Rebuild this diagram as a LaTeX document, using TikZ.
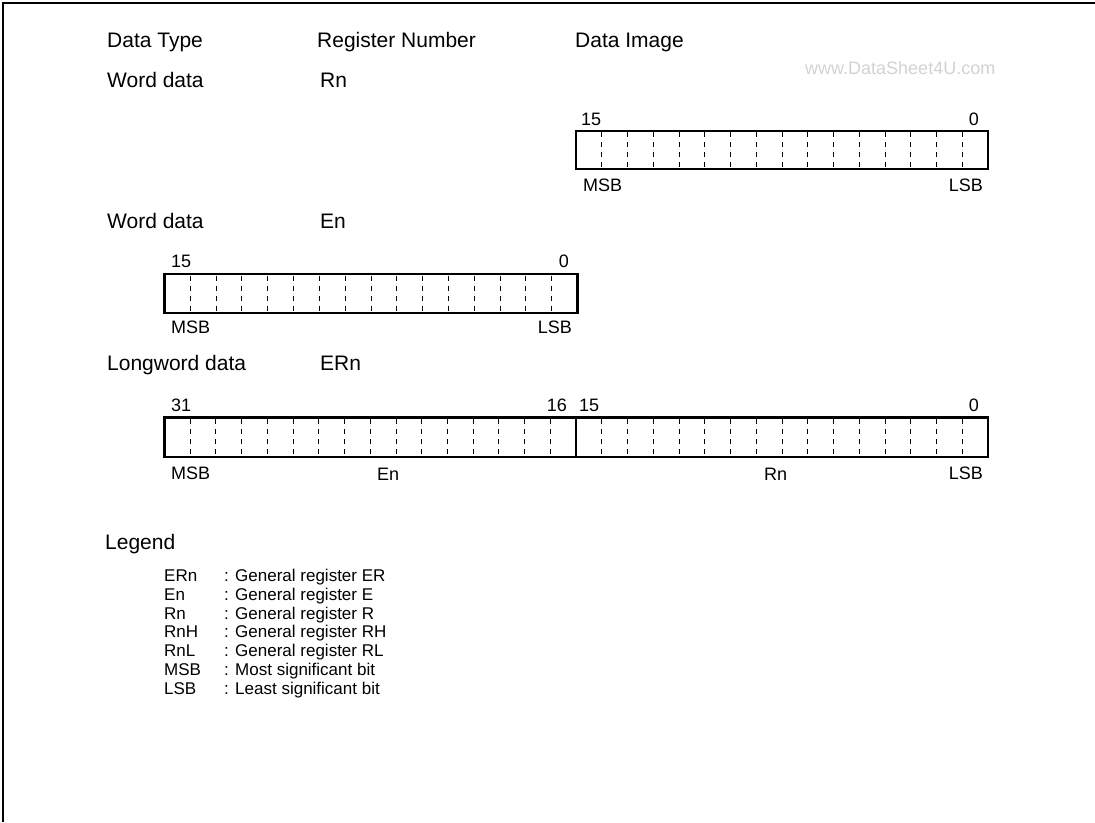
\documentclass[tikz,border=0pt]{standalone}
\usepackage{fontspec}
\setmainfont{Liberation Sans}
\begin{document}
\begin{tikzpicture}[x=1pt,y=-1pt,
  big/.style={font=\fontsize{21}{25}\selectfont, inner sep=0pt, anchor=base west},
  small/.style={font=\fontsize{18}{22}\selectfont, inner sep=0pt, anchor=base west},
  smallr/.style={small, anchor=base east},
  legitem/.style={font=\fontsize{17}{20}\selectfont, inner sep=0pt, anchor=base west},
  regbox/.style={draw, line width=2.3pt},
  bitdiv/.style={line width=0.9pt, dash pattern=on 5pt off 5pt},
  frameline/.style={line width=2pt},
  wmark/.style={font=\fontsize{18}{22}\selectfont, text=gray!35, inner sep=0pt, anchor=base west}]
\useasboundingbox (0,0) rectangle (1095,822);
% frame (open at right and bottom)
\draw[frameline] (2.5,822) -- (2.5,2.5) -- (1095,2.5);

% headers
\node[big] (hType) at (107,47) {Data Type};
\node[big] (hReg) at (317,47) {Register Number};
\node[big] (hImg) at (575,47) {Data Image};
\node[wmark] (wm) at (805,74) {www.DataSheet4U.com};

% row 1: word data Rn
\node[big] (t1) at (107,87.5) {Word data};
\node[big] (r1) at (320,87.5) {Rn};
\draw[regbox] (576,131) rectangle (988,169);
\foreach \k in {1,...,15} \draw[bitdiv] ({576+\k*412/16},132) -- ++(0,36);
\node[small] (b1h) at (581,125) {15};
\node[smallr] (b1l) at (979,125) {0};
\node[small] (b1m) at (583,191) {MSB};
\node[smallr] (b1s) at (983,191) {LSB};

% row 2: word data En
\node[big] (t2) at (107,228.5) {Word data};
\node[big] (r2) at (320,228.5) {En};
\draw[regbox] (164.5,274) rectangle (577.5,313);
\foreach \k in {1,...,15} \draw[bitdiv] ({164.5+\k*413/16},275.5) -- ++(0,36);
\node[small] (b2h) at (171,267) {15};
\node[smallr] (b2l) at (569,267) {0};
\node[small] (b2m) at (171,333) {MSB};
\node[smallr] (b2s) at (572,333) {LSB};

% row 3: longword data ERn
\node[big] (t3) at (107,370.5) {Longword data};
\node[big] (r3) at (320,370.5) {ERn};
\draw[regbox] (164.5,417.5) rectangle (988,457);
\draw[line width=2.3pt] (576,417.5) -- (576,457);
\foreach \k in {1,...,15} \draw[bitdiv] ({164.5+\k*411.5/16},419) -- ++(0,36);
\foreach \k in {1,...,15} \draw[bitdiv] ({576+\k*412/16},419) -- ++(0,36);
\node[small] (b3a) at (171,411) {31};
\node[smallr] (b3b) at (567,411) {16};
\node[small] (b3c) at (579,411) {15};
\node[smallr] (b3d) at (979,411) {0};
\node[small] (b3m) at (171,479) {MSB};
\node[small] (b3e) at (377,480.5) {En};
\node[small] (b3r) at (764,480.5) {Rn};
\node[smallr] (b3s) at (983,479) {LSB};

% legend
\node[big] (leg) at (105,549.5) {Legend};
\foreach \ab/\txt/\yy [count=\i] in {ERn/General register ER/581.5,
    En/General register E/600.3,
    Rn/General register R/619,
    RnH/General register RH/637.8,
    RnL/General register RL/656.6,
    MSB/Most significant bit/675.4,
    LSB/Least significant bit/694.2}{
  \node[legitem] (la\i) at (164,\yy) {\ab};
  \node[legitem] (lt\i) at (224,\yy) {: \txt};
}
\end{tikzpicture}
\end{document}
